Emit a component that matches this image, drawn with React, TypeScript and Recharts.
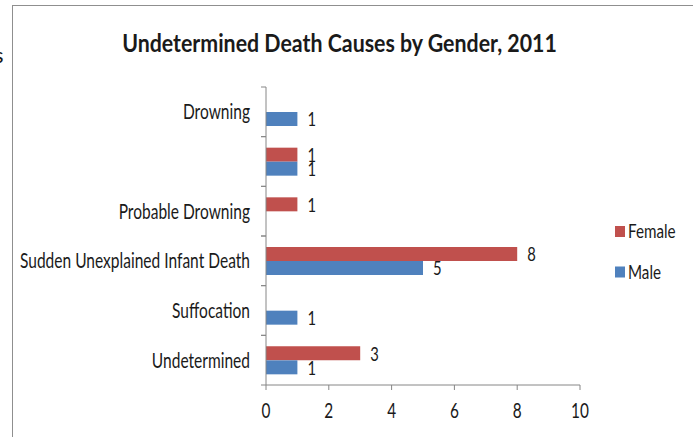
import React from 'react'
import { BarChart, Bar, XAxis, YAxis, LabelList } from 'recharts'

const categories = ['Drowning', '', 'Probable Drowning', 'Sudden Unexplained Infant Death', 'Suffocation', 'Undetermined']
const femaleValues = [null, 1, 1, 8, null, 3]
const maleValues = [1, 1, null, 5, 1, 1]
const xTicks = [0, 2, 4, 6, 8, 10]

const series = [
  { key: 'female', name: 'Female', color: '#C0504D' },
  { key: 'male', name: 'Male', color: '#4F81BD' },
]

const data = categories.map((category, i) => ({
  category,
  female: femaleValues[i],
  male: maleValues[i],
}))

const FONT = 'Lato, "Open Sans", sans-serif'
const AXIS = '#868686'
const TEXT = '#1a1a1a'
// the original looks horizontally squeezed, so text gets a narrow scale
const SX = 0.74

const YTick = (props: any) => {
  const { x, y, payload } = props
  const half = payload?.offset ?? 0
  return (
    <g>
      <line x1={x + 11} x2={x + 16} y1={y - half} y2={y - half} stroke={AXIS} />
      <line x1={x + 11} x2={x + 16} y1={y + half} y2={y + half} stroke={AXIS} />
      <text
        transform={`translate(${x},${y}) scale(${SX},1)`}
        textAnchor="end"
        dy="0.36em"
        fontSize={21}
        fontFamily={FONT}
        fill={TEXT}
      >
        {payload.value}
      </text>
    </g>
  )
}

const XTick = (props: any) => {
  const { x, y, payload } = props
  return (
    <text
      transform={`translate(${x},${y + 26}) scale(0.7,1)`}
      textAnchor="middle"
      fontSize={22}
      fontFamily={FONT}
      fill={TEXT}
    >
      {payload.value}
    </text>
  )
}

const BarValue = (props: any) => {
  const { x, y, width, height, value } = props
  if (value == null) return null
  return (
    <text
      transform={`translate(${x + width + 10},${y + height / 2}) scale(${SX},1)`}
      textAnchor="start"
      dy="0.36em"
      fontSize={20}
      fontFamily={FONT}
      fill={TEXT}
    >
      {value}
    </text>
  )
}

export default function App() {
  return (
    <div style={{ position: 'absolute', left: 0, top: 0, width: 693, height: 437, overflow: 'hidden', background: '#fff' }}>
      <div style={{ position: 'absolute', left: 12, top: 5, width: 720, height: 480, border: '1px solid #8f8f8f' }} />
      <div style={{ position: 'absolute', left: 0, top: 0 }}>
        <BarChart
          width={693}
          height={437}
          data={data}
          layout="vertical"
          margin={{ top: 87, right: 113, bottom: 12, left: 0 }}
          barCategoryGap={11}
          barGap={0}
        >
          <XAxis
            type="number"
            domain={[0, 10]}
            ticks={xTicks}
            interval={0}
            axisLine={{ stroke: AXIS }}
            tickLine={{ stroke: AXIS }}
            tickSize={5}
            height={40}
            tick={<XTick />}
          />
          <YAxis
            type="category"
            dataKey="category"
            width={266}
            interval={0}
            axisLine={{ stroke: AXIS }}
            tickLine={false}
            tickSize={5}
            tickMargin={11}
            tick={<YTick />}
          />
          {series.map((s) => (
            <Bar key={s.key} dataKey={s.key} name={s.name} fill={s.color} isAnimationActive={false}>
              <LabelList dataKey={s.key} content={<BarValue />} />
            </Bar>
          ))}
        </BarChart>
      </div>
      <svg width={693} height={437} style={{ position: 'absolute', left: 0, top: 0, pointerEvents: 'none' }}>
        <text
          transform="translate(339.5,52) scale(0.89,1)"
          textAnchor="middle"
          fontSize={24}
          fontWeight="bold"
          fontFamily={FONT}
          fill={TEXT}
        >
          Undetermined Death Causes by Gender, 2011
        </text>
        <text x={3.5} y={63} textAnchor="end" fontSize={22} fontFamily={FONT} fill={TEXT}>
          s
        </text>
        {series.map((s, i) => (
          <g key={s.key}>
            <rect x={615} y={226 + i * 40.5} width={10} height={11} fill={s.color} />
            <text
              transform={`translate(628,${231.5 + i * 40.5}) scale(0.8,1)`}
              dy="0.36em"
              fontSize={19}
              fontFamily={FONT}
              fill={TEXT}
            >
              {s.name}
            </text>
          </g>
        ))}
      </svg>
    </div>
  )
}
